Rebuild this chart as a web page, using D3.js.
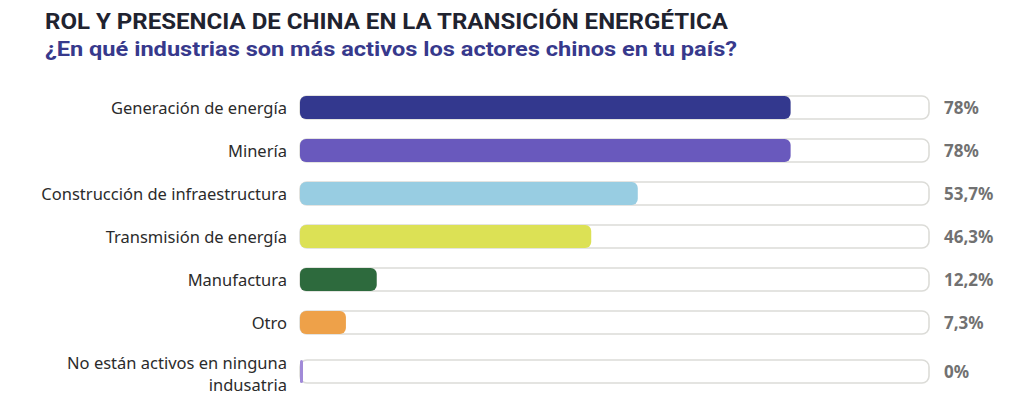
<!DOCTYPE html>
<html>
<head>
<meta charset="utf-8">
<script src="https://cdn.jsdelivr.net/npm/d3@7"></script>
<style>
  body { margin: 0; background: #fff; }
  text { font-family: "Noto Sans", Roboto, sans-serif; }
</style>
</head>
<body>
<div id="chart"></div>
<script>
// data
const categories = [
    "Generación de energía",
    "Minería",
    "Construcción de infraestructura",
    "Transmisión de energía",
    "Manufactura",
    "Otro",
    "No están activos en ninguna\nindusatria"
];
const values = [78, 78, 53.7, 46.3, 12.2, 7.3, 0];
const valueLabels = ["78%", "78%", "53,7%", "46,3%", "12,2%", "7,3%", "0%"];
const barColors = ["#33388e", "#6959bd", "#98cde2", "#dce155", "#2d6a3d", "#eea149", "#a18ad8"];

const title = "ROL Y PRESENCIA DE CHINA EN LA TRANSICIÓN ENERGÉTICA";
const subtitle = "¿En qué industrias son más activos los actores chinos en tu país?";

const width = 1024, height = 412;
const barH = 23;
const rowStep = 43;
const firstRow = 107.5;

var svg = d3.select("#chart")
    .append("svg")
    .attr("width", width)
    .attr("height", height);

// Titles
svg.append("text")
    .attr("x", 45)
    .attr("y", 29)
    .attr("font-size", 22)
    .attr("font-weight", 700)
    .attr("fill", "#1f2330")
    .attr("textLength", 683)
    .attr("lengthAdjust", "spacingAndGlyphs")
    .style("font-family", "Roboto, sans-serif")
    .text(title);

svg.append("text")
    .attr("x", 45)
    .attr("y", 56)
    .attr("font-size", 21)
    .attr("font-weight", 700)
    .attr("fill", "#37398c")
    .attr("textLength", 692)
    .attr("lengthAdjust", "spacingAndGlyphs")
    .style("font-family", "Roboto, sans-serif")
    .text(subtitle);

var xScale = d3.scaleLinear()
    .domain([0, 100])
    .range([300, 929]);

// row centres; wrapped labels get a bit more room
var rows = [];
var yc = firstRow;
categories.forEach(function (c, i) {
    var extra = (c.split("\n").length - 1) * 6;
    yc += extra;
    rows.push({ cat: c, value: values[i], label: valueLabels[i], color: barColors[i], y: yc });
    yc += rowStep;
});

var g = svg.append("g");

var row = g.selectAll("g.row")
    .data(rows)
    .enter()
    .append("g")
    .attr("class", "row")
    .attr("transform", d => "translate(0," + d.y + ")");

// Track
row.append("rect")
    .attr("x", xScale(0))
    .attr("y", -barH / 2)
    .attr("width", xScale(100) - xScale(0))
    .attr("height", barH)
    .attr("rx", 7)
    .attr("fill", "#fff")
    .attr("stroke", "#dcdcd8")
    .attr("stroke-width", 1.6);

// Bars (0% still shows a thin sliver)
row.append("rect")
    .attr("x", xScale(0))
    .attr("y", -barH / 2)
    .attr("width", d => Math.max(xScale(d.value) - xScale(0), 3))
    .attr("height", barH)
    .attr("rx", d => d.value > 0 ? 6 : 1.5)
    .attr("fill", d => d.color);

// Category labels, one text per line
row.each(function (d) {
    var lines = d.cat.split("\n");
    var y0 = lines.length > 1 ? -3 : 6;
    d3.select(this).selectAll("text.cat")
        .data(lines)
        .enter()
        .append("text")
        .attr("class", "cat")
        .attr("x", 287)
        .attr("y", (l, k) => y0 + k * 22.5)
        .attr("text-anchor", "end")
        .attr("font-size", 16.5)
        .attr("fill", "#2b2b2b")
        .text(l => l);
});

// Value labels
row.append("text")
    .attr("x", 944)
    .attr("y", 6)
    .attr("font-size", 17)
    .attr("font-weight", 700)
    .attr("fill", "#717171")
    .text(d => d.label);
</script>
</body>
</html>
